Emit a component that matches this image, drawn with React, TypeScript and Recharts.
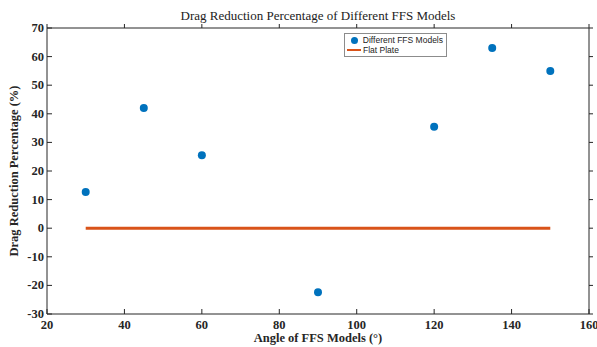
import React from "react";
import {
  ComposedChart,
  Scatter,
  Line,
  XAxis,
  YAxis,
} from "recharts";

const angles = [30, 45, 60, 90, 120, 135, 150];
const dragReduction = [12.7, 42, 25.5, -22.4, 35.5, 63, 55];
const flatAngles = [30, 150];
const flatValues = [0, 0];
const xTicks = [20, 40, 60, 80, 100, 120, 140, 160];
const yTicks = [-30, -20, -10, 0, 10, 20, 30, 40, 50, 60, 70];

const models = angles.map((a, i) => ({ angle: a, drag: dragReduction[i] }));
const flat = flatAngles.map((a, i) => ({ angle: a, drag: flatValues[i] }));

const serif = "'Liberation Serif', 'Times New Roman', serif";
const axisColor = "#262626";

const XTick = (p: any) => (
  <text x={p.x} y={p.y} dy={9} textAnchor="middle" fontFamily={serif} fontSize={12.5} fontWeight={700} fill={axisColor}>
    {p.payload.value}
  </text>
);

const YTick = (p: any) => (
  <text x={p.x} y={p.y} dy={4} textAnchor="end" fontFamily={serif} fontSize={12.5} fontWeight={700} fill={axisColor}>
    {p.payload.value}
  </text>
);

function LegendBox() {
  return (
    <div
      style={{
        position: "absolute",
        left: 344,
        top: 33,
        border: "1px solid #8c8c8c",
        background: "#fff",
        fontFamily: "'Liberation Sans', Arial, sans-serif",
        fontSize: 8.5,
        color: "#222",
        padding: "1px 3px 1px 2px",
        width: 96,
        lineHeight: "10px",
        whiteSpace: "nowrap",
      }}
    >
      <div style={{ display: "flex", alignItems: "center" }}>
        <span
          style={{
            display: "inline-block",
            width: 7,
            height: 7,
            borderRadius: "50%",
            background: "#0072BD",
            margin: "0 5px 0 4px",
          }}
        />
        Different FFS Models
      </div>
      <div style={{ display: "flex", alignItems: "center" }}>
        <span
          style={{
            display: "inline-block",
            width: 14,
            height: 2,
            background: "#D95319",
            marginRight: 2,
          }}
        />
        Flat Plate
      </div>
    </div>
  );
}

export default function App() {
  return (
    <div style={{ position: "absolute", left: 0, top: 0, width: 597, height: 347, overflow: "hidden", background: "#fff" }}>
      <ComposedChart
        width={620}
        height={347}
        margin={{ top: 0, right: 0, bottom: 0, left: 0 }}
      >
        <XAxis
          xAxisId={0}
          type="number"
          dataKey="angle"
          domain={[20, 160]}
          ticks={xTicks}
          allowDataOverflow
          height={33}
          tickSize={-5}
          tickMargin={11}
          tick={<XTick />}
          stroke={axisColor}
          label={{
            value: "Angle of FFS Models (°)",
            position: "insideBottom",
            offset: 5,
            style: { fontFamily: serif, fontSize: 12.5, fontWeight: 700, fill: axisColor },
          }}
        />
        <XAxis
          xAxisId={1}
          orientation="top"
          type="number"
          dataKey="angle"
          domain={[20, 160]}
          ticks={xTicks}
          height={28}
          tickSize={4}
          tick={{ fill: "none" }}
          stroke={axisColor}
        />
        <YAxis
          yAxisId={0}
          type="number"
          domain={[-30, 70]}
          ticks={yTicks}
          width={47}
          tickSize={-5}
          tickMargin={8}
          tick={<YTick />}
          stroke={axisColor}
          label={{
            value: "Drag Reduction Percentage (%)",
            angle: -90,
            position: "insideLeft",
            offset: 14,
            style: { fontFamily: serif, fontSize: 12.5, fontWeight: 700, fill: axisColor, textAnchor: "middle" },
          }}
        />
        <YAxis
          yAxisId={1}
          orientation="right"
          type="number"
          domain={[-30, 70]}
          ticks={yTicks}
          width={31}
          tickSize={4}
          tick={{ fill: "none" }}
          stroke={axisColor}
        />
        <Line
          xAxisId={0}
          yAxisId={0}
          data={flat}
          dataKey="drag"
          stroke="#D95319"
          strokeWidth={3}
          dot={false}
          isAnimationActive={false}
          name="Flat Plate"
        />
        <Scatter
          xAxisId={1}
          yAxisId={1}
          data={models}
          dataKey="drag"
          fill="none"
          shape={() => <g />}
          legendType="none"
          isAnimationActive={false}
        />
        <Scatter
          xAxisId={0}
          yAxisId={0}
          data={models}
          dataKey="drag"
          fill="#0072BD"
          shape={(p: any) => <circle cx={p.cx} cy={p.cy} r={4} fill="#0072BD" />}
          isAnimationActive={false}
          name="Different FFS Models"
        />
      </ComposedChart>
      <div
        style={{
          position: "absolute",
          left: 47,
          width: 542,
          top: 8,
          textAlign: "center",
          fontFamily: serif,
          fontSize: 13,
          color: "#222",
        }}
      >
        Drag Reduction Percentage of Different FFS Models
      </div>
      <LegendBox />
    </div>
  );
}
